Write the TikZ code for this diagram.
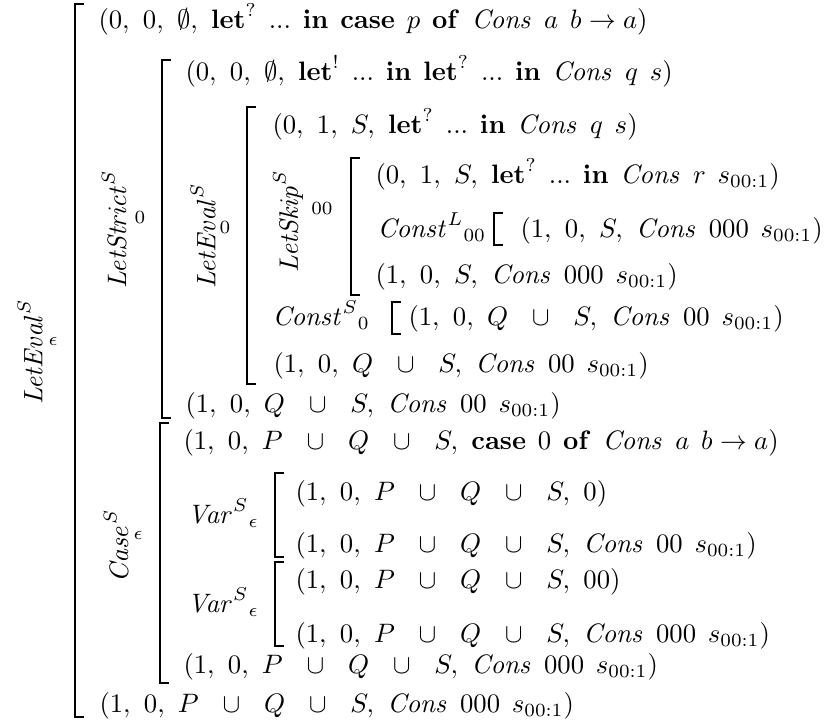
\documentclass[tikz,border=0pt]{standalone}
\usepackage{amssymb}
\usetikzlibrary{positioning}
\newcommand{\kw}[1]{\mathbf{#1}}
\newcommand{\Cons}{\mathit{Cons}}
\newcommand{\sub}{s_{00:1}}
\newcommand{\gap}{\mskip 8mu}
\newcommand{\cm}{,\ }
\newcommand{\un}{\mskip 12mu\cup\mskip 12mu}
\newcommand{\PQS}{P\un Q\un S}
\tikzset{
  term/.style={anchor=base west, inner sep=0pt},
  rulename/.style={rotate=90, inner sep=0pt},
  ruleidx/.style={inner sep=0pt, font=\scriptsize},
  bracket/.style={draw, line width=0.6pt, line cap=rect}
}
% bracket: x, top, bottom (picture units)
\newcommand{\derivbracket}[3]{\draw[bracket] (#1+8,#2) -- (#1,#2) -- (#1,#3) -- (#1+8,#3);}
\begin{document}
\begin{tikzpicture}[x=0.375pt,y=-0.375pt]
  \useasboundingbox (0,0) rectangle (826,722);
  % rule names
  \node[rulename] (evalA) at (30,352) {$\mathit{LetEval}^S$};
  \node[ruleidx] (evalAi) at (53,341) {$\epsilon$};
  \node[rulename] (strict) at (114,229) {$\mathit{LetStrict}^S$};
  \node[ruleidx] (stricti) at (140,217) {$0$};
  \node[rulename] (evalB) at (203,236) {$\mathit{LetEval}^S$};
  \node[ruleidx] (evalBi) at (225,227) {$0$};
  \node[rulename] (skip) at (288,221) {$\mathit{LetSkip}^S$};
  \node[ruleidx] (skipi) at (322,208) {$00$};
  \node[rulename] (case) at (116,546) {$\mathit{Case}^S$};
  \node[ruleidx] (casei) at (138,535) {$\epsilon$};
  % judgements
  \node[term] (r1) at (98,28) {$(0\cm 0\cm \emptyset\cm \kw{let}^{?}\gap ...\gap \kw{in}\gap \kw{case}\gap p\gap \kw{of}\gap \Cons\gap a\gap b \rightarrow a)$};
  \node[term] (r2) at (185,80) {$(0\cm 0\cm \emptyset\cm \kw{let}^{!}\gap ...\gap \kw{in}\gap \kw{let}^{?}\gap ...\gap \kw{in}\gap \Cons\gap q\gap s)$};
  \node[term] (r3) at (272,133) {$(0\cm 1\cm S\cm \kw{let}^{?}\gap ...\gap \kw{in}\gap \Cons\gap q\gap s)$};
  \node[term] (r4) at (375,183) {$(0\cm 1\cm S\cm \kw{let}^{?}\gap ...\gap \kw{in}\gap \Cons\gap r\gap \sub)$};
  \node[term] (constL) at (377,237) {$\mathit{Const}^L{}_{00}$};
  \node[term] (r5) at (520,237) {$(1\cm 0\cm S\cm \Cons\gap 000\gap \sub)$};
  \node[term] (r6) at (375,283) {$(1\cm 0\cm S\cm \Cons\gap 000\gap \sub)$};
  \node[term] (constS) at (272,325) {$\mathit{Const}^S{}_{0}$};
  \node[term] (r7) at (408,325) {$(1\cm 0\cm Q\un S\cm \Cons\gap 00\gap \sub)$};
  \node[term] (r8) at (273,372) {$(1\cm 0\cm Q\un S\cm \Cons\gap 00\gap \sub)$};
  \node[term] (r9) at (185,412) {$(1\cm 0\cm Q\un S\cm \Cons\gap 00\gap \sub)$};
  \node[term] (r10) at (183,449) {$(1\cm 0\cm \PQS\cm \kw{case}\gap 0\gap \kw{of}\gap \Cons\gap a\gap b \rightarrow a)$};
  \node[term] (varA) at (187,523) {$\mathit{Var}^S{}_{\epsilon}$};
  \node[term] (r11) at (295,500) {$(1\cm 0\cm \PQS\cm 0)$};
  \node[term] (r12) at (295,552) {$(1\cm 0\cm \PQS\cm \Cons\gap 00\gap \sub)$};
  \node[term] (varB) at (187,612) {$\mathit{Var}^S{}_{\epsilon}$};
  \node[term] (r13) at (295,588) {$(1\cm 0\cm \PQS\cm 00)$};
  \node[term] (r14) at (295,642) {$(1\cm 0\cm \PQS\cm \Cons\gap 000\gap \sub)$};
  \node[term] (r15) at (183,673) {$(1\cm 0\cm \PQS\cm \Cons\gap 000\gap \sub)$};
  \node[term] (r16) at (99,712) {$(1\cm 0\cm \PQS\cm \Cons\gap 000\gap \sub)$};
  % brackets
  \derivbracket{75}{4}{717}
  \derivbracket{162}{60}{418}
  \derivbracket{247}{107}{384}
  \derivbracket{351}{158}{295}
  \derivbracket{494}{213}{245}
  \derivbracket{392}{302}{334}
  \derivbracket{160}{423}{683}
  \derivbracket{275}{473}{557}
  \derivbracket{275}{562}{646}
\end{tikzpicture}
\end{document}
